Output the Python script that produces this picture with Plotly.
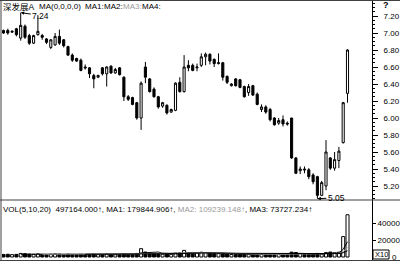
import plotly.graph_objects as go
import pandas as pd

W, H = 400, 264

# ---- data ----
days = list(range(81))
opens = [7.03, 7.03, 7.01, 7.05, 6.94, 7.08, 6.97, 6.88, 6.98, 6.97,
         6.93, 6.83, 6.86, 6.96, 6.92, 6.84, 6.74, 6.70, 6.68, 6.60,
         6.59, 6.50, 6.48, 6.59, 6.52, 6.61, 6.53, 6.59, 6.48, 6.25,
         6.24, 6.18, 6.00, 6.60, 6.46, 6.34, 6.25, 6.14, 6.15, 6.07,
         6.09, 6.42, 6.31, 6.62, 6.62, 6.59, 6.62, 6.72, 6.75, 6.69,
         6.64, 6.65, 6.49, 6.38, 6.46, 6.45, 6.37, 6.30, 6.38, 6.28,
         6.10, 6.13, 6.10, 6.00, 5.94, 5.98, 5.94, 6.00, 5.53, 5.38,
         5.40, 5.39, 5.33, 5.31, 5.09, 5.20, 5.53, 5.41, 5.50, 5.71,
         6.29]
highs = [7.04, 7.05, 7.03, 7.06, 7.24, 7.10, 6.99, 6.98, 7.21, 6.99,
         6.94, 6.93, 7.00, 7.04, 6.93, 6.85, 6.76, 6.71, 6.70, 6.63,
         6.60, 6.52, 6.51, 6.60, 6.61, 6.62, 6.59, 6.60, 6.49, 6.27,
         6.25, 6.19, 6.43, 6.66, 6.47, 6.36, 6.26, 6.19, 6.16, 6.11,
         6.42, 6.48, 6.74, 6.68, 6.64, 6.64, 6.76, 6.77, 6.76, 6.70,
         6.76, 6.66, 6.50, 6.41, 6.47, 6.46, 6.38, 6.40, 6.39, 6.30,
         6.16, 6.15, 6.12, 6.01, 6.00, 6.03, 5.96, 6.00, 5.54, 5.43,
         5.43, 5.41, 5.35, 5.32, 5.26, 5.74, 5.54, 5.60, 5.66, 6.19,
         6.81]
lows = [6.99, 6.98, 7.00, 6.96, 6.91, 6.93, 6.86, 6.87, 6.97, 6.92,
        6.87, 6.81, 6.85, 6.86, 6.83, 6.73, 6.66, 6.66, 6.55, 6.57,
        6.47, 6.35, 6.47, 6.50, 6.37, 6.52, 6.52, 6.50, 6.20, 6.20,
        6.15, 5.98, 5.86, 6.41, 6.30, 6.24, 6.11, 6.12, 6.04, 6.06,
        6.08, 6.30, 6.30, 6.55, 6.55, 6.55, 6.60, 6.62, 6.63, 6.60,
        6.63, 6.44, 6.40, 6.37, 6.37, 6.35, 6.24, 6.26, 6.26, 6.15,
        6.07, 6.05, 5.96, 5.91, 5.92, 5.90, 5.91, 5.52, 5.34, 5.34,
        5.35, 5.28, 5.22, 5.05, 5.08, 5.15, 5.39, 5.38, 5.41, 5.70,
        6.18]
closes = [7.00, 7.00, 7.02, 6.98, 7.09, 6.95, 6.88, 6.97, 7.02, 6.95,
          6.89, 6.92, 6.96, 6.88, 6.85, 6.74, 6.68, 6.67, 6.56, 6.59,
          6.52, 6.46, 6.50, 6.52, 6.60, 6.53, 6.57, 6.51, 6.25, 6.22,
          6.16, 6.00, 6.41, 6.48, 6.31, 6.25, 6.13, 6.18, 6.06, 6.10,
          6.41, 6.31, 6.60, 6.59, 6.56, 6.60, 6.72, 6.75, 6.67, 6.64,
          6.65, 6.48, 6.42, 6.40, 6.38, 6.36, 6.25, 6.37, 6.27, 6.16,
          6.13, 6.07, 5.98, 5.92, 5.97, 5.93, 5.93, 5.53, 5.35, 5.40,
          5.39, 5.31, 5.25, 5.09, 5.24, 5.60, 5.41, 5.51, 5.61, 6.18,
          6.80]
volumes = [3000, 3200, 2800, 3100, 4200, 3900, 3400, 3100, 3600, 2900,
           3000, 3300, 3700, 3500, 2800, 3400, 3000, 2600, 3200, 2700,
           3100, 3600, 2800, 2900, 3400, 3000, 2700, 2900, 3800, 3000,
           3100, 4200, 9800, 5800, 5200, 4300, 4000, 3300, 3500, 3200,
           4800, 5000, 7800, 5000, 4200, 4700, 5600, 5200, 4800, 4300,
           4000, 4400, 3600, 3000, 3200, 3100, 3500, 3300, 3200, 3400,
           3000, 3100, 3300, 3600, 3000, 3200, 3400, 5700, 5300, 3800,
           3815, 3200, 3300, 4200, 3417, 5200, 5800, 4800, 5606, 24000,
           49716]
price_ticks_step = 0.2
price_grid_step = 0.4
vol_ticks = [0, 20000, 40000]
vol_tick_text = ["", "20000", "40000"]
vol_grid = [20000, 40000]
high_label = "7.24"
low_label = "5.05"
title_name = "深发展A"
ma_labels = ["MA(0,0,0,0)", "MA1:", "MA2:", "MA3:", "MA4:"]
vol_header = ("VOL(5,10,20)  497164.000↑, MA1: 179844.906↑, "
              "<span style='color:#9a9a9a'>MA2: 109239.148↑</span>, MA3: 73727.234↑")

FONT = "Liberation Sans, Arial, Noto Sans CJK SC, sans-serif"


def px(x):
    return x / W


def py(y):
    return 1 - y / H


up = [c >= o for o, c in zip(opens, closes)]
vs = pd.Series(volumes, dtype=float)
ma5 = vs.rolling(5).mean()
ma10 = vs.rolling(10).mean()
ma20 = vs.rolling(20).mean()

fig = go.Figure()
fig.add_trace(go.Candlestick(
    x=days, open=opens, high=highs, low=lows, close=closes,
    increasing=dict(line=dict(color="black", width=1), fillcolor="white"),
    decreasing=dict(line=dict(color="black", width=1), fillcolor="black"),
    whiskerwidth=0, xaxis="x", yaxis="y", hoverinfo="skip", showlegend=False))

fig.add_trace(go.Bar(
    x=days, y=volumes, width=0.7,
    marker=dict(color=["white" if u else "black" for u in up],
                line=dict(color="black", width=1)),
    xaxis="x2", yaxis="y2", hoverinfo="skip", showlegend=False))
for s, col in [(ma5, "black"), (ma10, "#9a9a9a"), (ma20, "black")]:
    fig.add_trace(go.Scatter(x=days, y=s, mode="lines",
                             line=dict(color=col, width=1),
                             xaxis="x2", yaxis="y2", hoverinfo="skip",
                             showlegend=False))

# pixel geometry
x_left, x_right = 2, 372
main_top, main_bot = 1, 200
vol_top, vol_bot = 200, 260
xr = [(x_left - 3.5) / 4.3, (x_right - 3.5) / 4.3]
prange = [7.20 - (main_bot - 16) / 85.0, 7.20 + (16 - main_top) / 85.0]
vper = 40000 / 34.0
vrange = [-(vol_bot - 257) * vper, (257 - vol_top) * vper]

axis_common = dict(showgrid=False, zeroline=False)
fig.update_layout(
    width=W, height=H, margin=dict(l=0, r=0, t=0, b=0),
    paper_bgcolor="white", plot_bgcolor="white", showlegend=False,
    boxgap=0.3, font=dict(family=FONT, size=8, color="black"),
    xaxis=dict(domain=[px(x_left), px(x_right)], range=xr, anchor="y",
               showticklabels=False, ticks="", rangeslider=dict(visible=False),
               **axis_common),
    xaxis2=dict(domain=[px(x_left), px(x_right)], range=xr, anchor="y2",
                showticklabels=False, ticks="", matches="x", **axis_common),
    yaxis=dict(domain=[py(main_bot), py(main_top)], anchor="x", side="right",
               range=prange, tickmode="linear", tick0=5.2, dtick=price_ticks_step,
               tickformat=".2f", ticks="outside", ticklen=5, tickcolor="black",
               showline=True, linecolor="black", linewidth=1,
               ticklabelstandoff=4, tickfont=dict(size=8, family=FONT),
               minor=dict(dtick=0.05, tick0=5.2, ticks="outside", ticklen=2,
                          tickcolor="black"),
               **axis_common),
    yaxis3=dict(overlaying="y", side="right", range=prange, tickmode="linear",
                tick0=5.2, dtick=price_grid_step, showgrid=True,
                gridcolor="#a0a0a0", gridwidth=1, griddash="1px,2px",
                showticklabels=False, ticks="", zeroline=False, showline=False),
    yaxis2=dict(domain=[py(vol_bot), py(vol_top)], anchor="x2", side="right",
                range=vrange, tickmode="array", tickvals=vol_ticks,
                ticktext=vol_tick_text,
                ticks="outside", ticklen=3, tickcolor="black",
                showline=True, linecolor="black", linewidth=1,
                tickfont=dict(size=8, family=FONT), **axis_common),
    yaxis4=dict(overlaying="y2", side="right", range=vrange, tickmode="array",
                tickvals=vol_grid, showgrid=True, gridcolor="#a0a0a0",
                gridwidth=1, griddash="1px,2px", showticklabels=False,
                ticks="", zeroline=False, showline=False),
)

# frame lines
frame = dict(type="line", xref="paper", yref="paper",
             line=dict(color="#404040", width=1))
fig.add_shape(**frame, x0=0, x1=1, y0=py(0.5), y1=py(0.5))
fig.add_shape(**frame, x0=px(1), x1=px(1), y0=py(0), y1=py(vol_bot))
fig.add_shape(**frame, x0=0, x1=1, y0=py(main_bot), y1=py(main_bot))
fig.add_shape(**frame, x0=0, x1=1, y0=py(vol_bot + 0.5), y1=py(vol_bot + 0.5))
fig.add_shape(type="rect", xref="paper", yref="paper",
              x0=px(373), x1=px(389), y0=py(259), y1=py(250),
              line=dict(color="black", width=1), fillcolor="white")

ann = dict(xref="paper", yref="paper", showarrow=False, yanchor="middle",
           xanchor="left", font=dict(family=FONT, size=8, color="black"))
fig.add_annotation(**{**ann, "font": dict(family=FONT, size=8.5, color="black")},
                   x=px(1), y=py(7), text=title_name)
for xpos, t, col in zip([37, 83, 102, 121, 140], ma_labels,
                        ["black", "black", "black", "#9a9a9a", "black"]):
    fig.add_annotation(**{**ann, "font": dict(family=FONT, size=8, color=col)},
                       x=px(xpos), y=py(7), text=t)
fig.add_annotation(**{**ann, "font": dict(family=FONT, size=8, color="black")},
                   x=px(1), y=py(209), text=vol_header)
fig.add_annotation(**{**ann, "xanchor": "center",
                      "font": dict(family=FONT, size=7.5, color="black")},
                   x=px(381), y=py(254.5), text="X10")
fig.add_annotation(**{**ann, "xanchor": "center",
                      "font": dict(family=FONT, size=8, color="black")},
                   x=px(394.5), y=py(257), text="0")
fig.add_annotation(**{**ann, "xanchor": "center",
                      "font": dict(family=FONT, size=9, color="black")},
                   x=px(385.5), y=py(5), text="<b>?</b>")

# high / low markers
hi_i = max(days, key=lambda i: highs[i])
lo_i = min(days, key=lambda i: lows[i])
arrow = dict(xref="x", yref="y", showarrow=True, arrowhead=2, arrowsize=0.7,
             arrowwidth=1, arrowcolor="black", standoff=0,
             font=dict(family=FONT, size=8.5, color="black"))
fig.add_annotation(**arrow, x=hi_i, y=highs[hi_i], text=high_label, ax=20, ay=3)
fig.add_annotation(**arrow, x=lo_i, y=lows[lo_i], text=low_label, ax=19, ay=-1)

fig.write_html("out.html")
